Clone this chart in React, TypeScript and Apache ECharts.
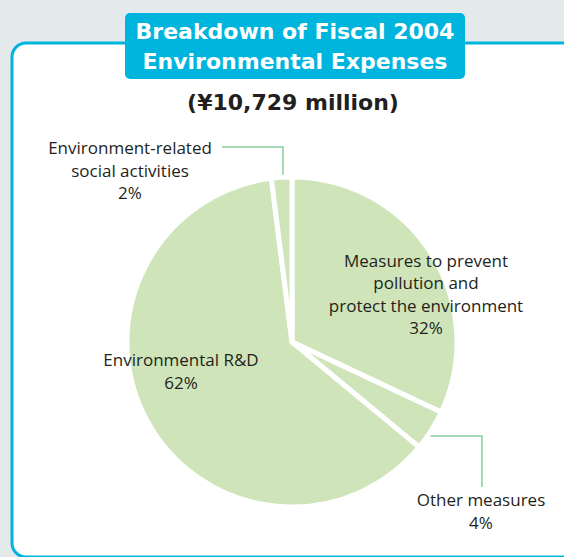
import React, { useEffect, useRef } from "react";
import * as echarts from "echarts";

const categories = [
  "Measures to prevent\npollution and\nprotect the environment",
  "Other measures",
  "Environmental R&D",
  "Environment-related\nsocial activities",
];
const shares = [32, 4, 62, 2];
const titleLines = ["Breakdown of Fiscal 2004", "Environmental Expenses"];
const subtitle = "(¥10,729 million)";

const labelPos: { x: number; y: number; line?: number[][] }[] = [
  { x: 426, y: 294 },
  { x: 481, y: 511, line: [[430, 436], [482, 436], [482, 487]] },
  { x: 181, y: 371 },
  { x: 130, y: 170, line: [[283, 189], [283, 147], [222, 147]] },
];

export default function App() {
  const ref = useRef<HTMLDivElement>(null);
  useEffect(() => {
    if (!ref.current) return;
    const chart = echarts.init(ref.current, null, { renderer: "svg" });
    const cyan = "#00b5dd";
    const font = "'Open Sans', sans-serif";
    chart.setOption({
      animation: false,
      backgroundColor: "#e4e9ec",
      graphic: [
        {
          type: "rect",
          z: 0,
          shape: { x: 12, y: 43, width: 600, height: 514, r: 14 },
          style: { fill: "#ffffff", stroke: cyan, lineWidth: 3 },
        },
        {
          type: "rect",
          z: 1,
          shape: { x: 125, y: 13, width: 340, height: 66, r: 5 },
          style: { fill: cyan },
        },
        {
          type: "text",
          z: 2,
          x: 295,
          y: 31,
          style: {
            text: titleLines[0],
            fill: "#ffffff",
            font: "bold 22px 'DejaVu Sans', sans-serif",
            align: "center",
            verticalAlign: "middle",
          },
        },
        {
          type: "text",
          z: 2,
          x: 295,
          y: 61,
          style: {
            text: titleLines[1],
            fill: "#ffffff",
            font: "bold 22px 'DejaVu Sans', sans-serif",
            align: "center",
            verticalAlign: "middle",
          },
        },
        {
          type: "text",
          z: 2,
          x: 293,
          y: 102,
          style: {
            text: subtitle,
            fill: "#231f20",
            font: "bold 22px 'DejaVu Sans', sans-serif",
            align: "center",
            verticalAlign: "middle",
          },
        },
      ],
      series: [
        {
          type: "pie",
          center: [292, 342],
          radius: 165,
          startAngle: 90,
          clockwise: true,
          silent: true,
          itemStyle: { color: "#cfe5b9", borderColor: "#ffffff", borderWidth: 5 },
          label: {
            show: true,
            position: "outside",
            overflow: "none",
            formatter: (p: any) => `${p.name}\n${p.value}%`,
            color: "#231f20",
            fontFamily: font,
            fontSize: 17,
            lineHeight: 22.5,
            align: "center",
          },
          labelLine: {
            show: true,
            lineStyle: { color: "#86cf9c", width: 1.5 },
          },
          labelLayout: (params: any) => {
            const lp = labelPos[params.dataIndex];
            const out: any = { x: lp.x, y: lp.y, align: "center", verticalAlign: "middle" };
            if (lp.line) out.labelLinePoints = lp.line;
            return out;
          },
          data: categories.map((name, i) => ({
            name,
            value: shares[i],
            labelLine: { show: !!labelPos[i].line },
          })),
        },
      ],
    });
    return () => chart.dispose();
  }, []);
  return (
    <div
      ref={ref}
      style={{ position: "fixed", left: 0, top: 0, width: 564, height: 557 }}
    />
  );
}
